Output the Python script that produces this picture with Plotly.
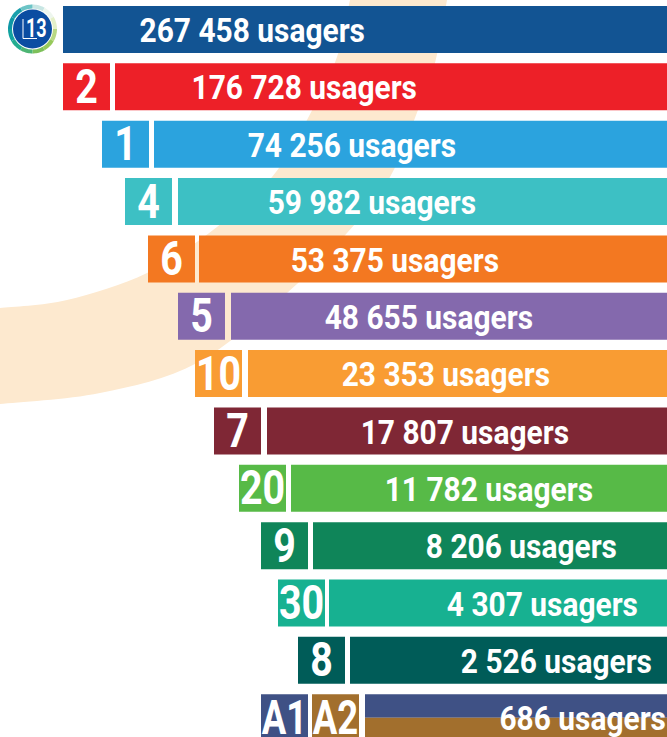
import math
import plotly.graph_objects as go

W, H = 667, 737
badges = ["2", "1", "4", "6", "5", "10", "7", "20", "9", "30", "8"]
usagers = ["267 458", "176 728", "74 256", "59 982", "53 375", "48 655", "23 353",
           "17 807", "11 782", "8 206", "4 307", "2 526", "686"]
# length of each drawn bar (the bars are not to scale with the counts)
bar_len = [604, 552, 513, 489, 468, 436, 419, 400, 376, 354, 338, 317, 302]
bar_col = ["#125493", "#ED2028", "#2BA3DE", "#3DC0C4", "#F37821", "#8469AD", "#F99C33",
           "#7F2735", "#57BA47", "#0F8559", "#17B191", "#005C58"]
label_gap = [302, 250, 211, 191, 168, 134, 117, 98, 74, 50, 29, 15, 1]
badge_gap = [5, 5, 6, 4, 6, 6, 6, 5, 5, 4, 5]
last_cols = ["#3F5185", "#A26F2D"]
last_badges = ["A1", "A2"]
last_base = [359, 308]

ROW0, PITCH, BAR_H, BADGE_W = 29.5, 57.35, 47, 47
LABEL_DY = 4.5 / PITCH
BADGE_DY = 4 / PITCH
rows = list(range(len(usagers)))
bw = BAR_H / PITCH

fig = go.Figure()
# main bars (x = pixels from the right edge)
fig.add_bar(x=bar_len[:12], y=rows[:12], orientation="h", width=bw,
            marker=dict(color=bar_col, line_width=0), hoverinfo="skip")
# badge squares
b_base = [l + g for l, g in zip(bar_len[1:12], badge_gap)]
fig.add_bar(x=[BADGE_W] * 11, y=rows[1:12], base=b_base, orientation="h", width=bw,
            marker=dict(color=bar_col[1:12], line_width=0), hoverinfo="skip")
# last row split bar
fig.add_bar(x=[bar_len[12]] * 2, y=[12 - bw / 4, 12 + bw / 4], orientation="h", width=bw / 2,
            marker=dict(color=last_cols, line_width=0), hoverinfo="skip")
# last row badges
fig.add_bar(x=[BADGE_W] * 2, y=[12, 12], base=last_base, orientation="h", width=bw,
            marker=dict(color=last_cols, line_width=0), hoverinfo="skip")

FONT = "Roboto"
fig.add_scatter(x=label_gap, y=[r + LABEL_DY for r in rows], mode="text", text=[u + " usagers" for u in usagers],
                textposition="middle left",
                textfont=dict(family=FONT, size=32.5, color="white", weight="bold"), hoverinfo="skip")
fig.add_scatter(x=[l + g + BADGE_W / 2 for l, g in zip(bar_len[1:12], badge_gap)],
                y=[r + BADGE_DY for r in rows[1:12]],
                mode="text", text=badges, textposition="middle center",
                textfont=dict(family=FONT, size=48, color="white", weight="bold"), hoverinfo="skip")
fig.add_scatter(x=[b + BADGE_W / 2 for b in last_base], y=[12 + BADGE_DY] * 2, mode="text", text=last_badges,
                textposition="middle center",
                textfont=dict(family=FONT, size=48, color="white", weight="bold"), hoverinfo="skip")

# pale background arc
inner = [(350, 0), (337, 57), (307, 120), (272, 177), (217, 227), (147, 273), (67, 300), (0, 308)]
outer = [(447, 0), (435, 63), (418, 110), (390, 177), (347, 233), (287, 293), (197, 363), (100, 393), (0, 404)]

def px(p):
    return p[0] / W, 1 - p[1] / H

def spline(pts):
    s = ""
    for i in range(len(pts) - 1):
        p0 = pts[max(i - 1, 0)]; p1 = pts[i]; p2 = pts[i + 1]; p3 = pts[min(i + 2, len(pts) - 1)]
        c1 = (p1[0] + (p2[0] - p0[0]) / 6, p1[1] + (p2[1] - p0[1]) / 6)
        c2 = (p2[0] - (p3[0] - p1[0]) / 6, p2[1] - (p3[1] - p1[1]) / 6)
        a, b, c = px(c1), px(c2), px(p2)
        s += f" C {a[0]},{a[1]} {b[0]},{b[1]} {c[0]},{c[1]}"
    return s

a0 = px(inner[0]); o0 = px(outer[-1])
path = f"M {a0[0]},{a0[1]}" + spline(inner) + f" L {o0[0]},{o0[1]}" + spline(outer[::-1]) + " Z"
shapes = [dict(type="path", xref="paper", yref="paper", path=path, fillcolor="#FDE9CF",
               line_width=0, layer="below")]

# logo: gradient ring + blue disc
cx, cy, R = 32.5, 29, 24.5

def circle(r, col):
    return dict(type="circle", xref="paper", yref="paper", x0=(cx - r) / W, x1=(cx + r) / W,
                y0=1 - (cy + r) / H, y1=1 - (cy - r) / H, fillcolor=col, line_width=0, layer="above")

ring = [(-90, "#C8E6E4"), (-60, "#EEF6EE"), (-30, "#E4F0C8"), (0, "#B9D884"), (30, "#96C95A"), (60, "#7DC05A"),
        (90, "#4DB574"), (120, "#22AC90"), (150, "#12A3A0"), (180, "#0E97A6"), (210, "#1A9FAC"), (240, "#6CC4C6")]
for ang, col in ring:
    pts = [(cx + R * math.cos(math.radians(a)), cy + R * math.sin(math.radians(a))) for a in range(ang, ang + 31, 3)]
    d = f"M {cx / W},{1 - cy / H} " + " ".join("L %f,%f" % px(p) for p in pts) + " Z"
    shapes.append(dict(type="path", xref="paper", yref="paper", path=d, fillcolor=col, line_width=0, layer="above"))
shapes.append(circle(20.5, "white"))
shapes.append(circle(19.5, "#0B4DA2"))
# the L of the logo
Lp = [(23, 19), (23, 38.5), (37, 38.5)]
shapes.append(dict(type="path", xref="paper", yref="paper", layer="above", line=dict(color="white", width=1),
                   path=f"M {px(Lp[0])[0]},{px(Lp[0])[1]} L {px(Lp[1])[0]},{px(Lp[1])[1]} L {px(Lp[2])[0]},{px(Lp[2])[1]}"))

fig.update_layout(
    width=W, height=H, margin=dict(l=0, r=0, t=0, b=0), autosize=False,
    paper_bgcolor="white", plot_bgcolor="rgba(0,0,0,0)", showlegend=False, barmode="overlay",
    xaxis=dict(range=[W, 0], visible=False, fixedrange=True),
    yaxis=dict(range=[(H - ROW0) / PITCH, -ROW0 / PITCH], visible=False, fixedrange=True),
    shapes=shapes,
    annotations=[dict(x=36 / W, y=1 - 28.5 / H, xref="paper", yref="paper", text="13", showarrow=False,
                      xanchor="center", yanchor="middle",
                      font=dict(family=FONT, size=25, color="white", weight="bold"))],
)

POST = """
document.documentElement.style.margin='0';document.body.style.margin='0';document.body.style.overflow='hidden';
function squeeze(el,k){var n=el.getComputedTextLength();el.setAttribute('textLength',n*k);el.setAttribute('lengthAdjust','spacingAndGlyphs');}
document.querySelectorAll('.textpoint text').forEach(function(t){var s=t.textContent;squeeze(t,s.indexOf('usagers')>=0?0.92:(s[0]=='A'?0.76:0.82));});
document.querySelectorAll('.annotation-text').forEach(function(t){squeeze(t,0.72);});
"""
fig.write_html("out.html", config=dict(displayModeBar=False), post_script=POST)
